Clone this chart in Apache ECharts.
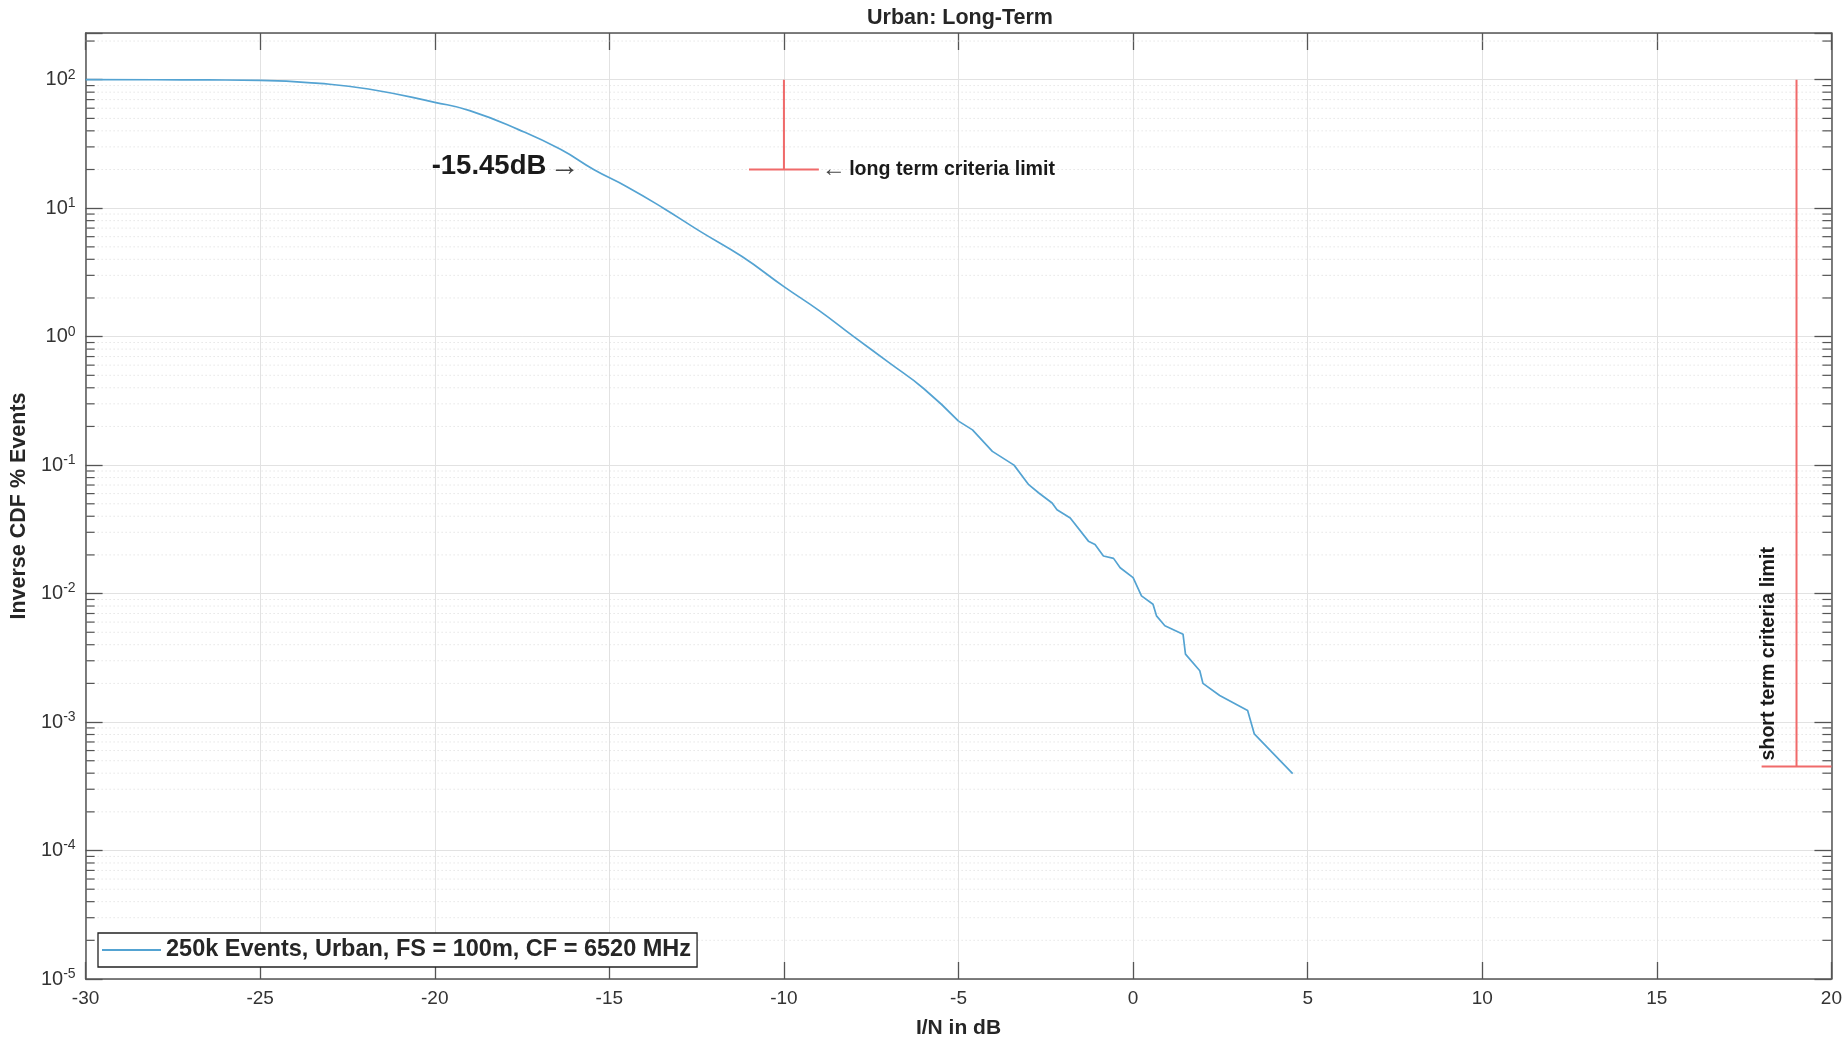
<!DOCTYPE html>
<html>
<head>
<meta charset="utf-8">
<title>Urban: Long-Term</title>
<script src="https://cdn.jsdelivr.net/npm/echarts@6/dist/echarts.min.js"></script>
<style>
  html, body { margin: 0; padding: 0; background: #fff; }
  #chart { width: 1845px; height: 1044px; }
</style>
</head>
<body>
<div id="chart"></div>
<script>
  // I/N in dB (x) and inverse CDF in % of events (y)
  var inDb = [-30, -28, -26.5, -25, -23.3, -21.9, -20, -19, -17.6, -16.4,
    -15.45, -14.5, -13.45, -12.4, -11.2, -10, -9, -8, -7, -6,
    -5, -4.6, -4.03, -3.41, -2.99, -2.7, -2.32, -2.18, -1.8, -1.28,
    -1.09, -0.85, -0.56, -0.37, 0, 0.24, 0.57, 0.67, 0.91, 1.43,
    1.5, 1.91, 2, 2.48, 3.28, 3.47, 4.57]
  var cdfPct = [100, 99.9, 99.6, 98.8, 93.5, 84.7, 66.7, 57.5, 40.9, 28.7,
    20, 14.7, 10, 6.6, 4.2, 2.45, 1.6, 1.0, 0.63, 0.395,
    0.22, 0.188, 0.128, 0.1, 0.0704, 0.0607, 0.0507, 0.045, 0.0388, 0.0256,
    0.0241, 0.0196, 0.0188, 0.0159, 0.0133, 0.0096, 0.00826, 0.00671, 0.00562, 0.00483,
    0.00338, 0.00251, 0.002, 0.00161, 0.00123, 0.00081, 0.000397]

  // criteria limit markers (T shapes)
  var longTermX = [-10, -10, -11, -9]
  var longTermY = [100, 20, 20, 20]
  var shortTermX = [19, 19, 18, 20]
  var shortTermY = [100, 0.00045, 0.00045, 0.00045]

  // axes
  var xMin = -30
  var xMax = 20
  var xStep = 5
  var yMin = 1e-5
  var yMax = 231
  var yDecades = [-5, -4, -3, -2, -1, 0, 1, 2]
  var minorSteps = [2, 3, 4, 5, 6, 7, 8, 9]

  var seriesName = '250k Events, Urban, FS = 100m, CF = 6520 MHz'
  var font = 'Liberation Sans, Arial, Helvetica, sans-serif'
  var axisColor = '#555'
  var textColor = '#262626'
  var curveColor = '#54a3d2'

  function zip (xs, ys) {
    return xs.map(function (x, i) { return [x, ys[i]] })
  }

  // the smooth upper part and the stepped tail are drawn as two pieces of one curve
  var curve = zip(inDb, cdfPct)
  var splitAt = inDb.indexOf(-5)
  var curveHead = curve.slice(0, splitAt + 1)
  var curveTail = curve.slice(splitAt)

  // minor log grid positions (2..9 x 10^n)
  var minorData = []
  yDecades.forEach(function (d) {
    minorSteps.forEach(function (k) {
      var v = k * Math.pow(10, d)
      if (v < yMax) minorData.push([xMin, v])
    })
  })

  var chart = echarts.init(document.getElementById('chart'))

  chart.setOption({
    backgroundColor: '#fff',
    animation: false,
    textStyle: { fontFamily: font },
    title: {
      text: 'Urban: Long-Term',
      left: 960,
      top: 7,
      padding: 0,
      textAlign: 'center',
      textStyle: { fontFamily: font, fontSize: 21.5, fontWeight: 'bold', color: textColor }
    },
    grid: { left: 83, right: 8, top: 33, bottom: 60 },
    legend: {
      data: [{ name: seriesName, icon: 'rect' }],
      left: 98,
      top: 933,
      orient: 'horizontal',
      backgroundColor: '#fff',
      borderColor: '#222',
      borderWidth: 1.3,
      padding: [5, 6, 5, 4],
      itemWidth: 59,
      itemHeight: 2,
      selectedMode: false,
      textStyle: { fontFamily: font, fontSize: 23.5, fontWeight: 'bold', color: textColor }
    },
    xAxis: [{
      type: 'value',
      min: xMin,
      max: xMax,
      interval: xStep,
      name: 'I/N in dB',
      nameLocation: 'middle',
      nameGap: 39,
      nameTextStyle: { fontFamily: font, fontSize: 21, fontWeight: 'bold', color: textColor },
      axisLine: { show: true, onZero: false, lineStyle: { color: axisColor, width: 1.5 } },
      axisTick: { show: true, inside: true, length: 17, lineStyle: { color: axisColor, width: 1.3 } },
      axisLabel: { margin: 10, fontSize: 19, color: '#333', fontFamily: font },
      splitLine: { show: true, lineStyle: { color: '#e2e2e2', width: 1 } }
    }, {
      type: 'value',
      position: 'top',
      min: xMin,
      max: xMax,
      interval: xStep,
      axisLine: { show: true, onZero: false, lineStyle: { color: axisColor, width: 1.5 } },
      axisTick: { show: true, inside: true, length: 17, lineStyle: { color: axisColor, width: 1.3 } },
      axisLabel: { show: false },
      splitLine: { show: false }
    }],
    yAxis: [{
      type: 'log',
      logBase: 10,
      min: yMin,
      max: yMax,
      splitNumber: 8,
      name: 'Inverse CDF % Events',
      nameLocation: 'middle',
      nameGap: 49,
      nameTextStyle: { fontFamily: font, fontSize: 21.5, fontWeight: 'bold', color: textColor },
      axisLine: { show: true, onZero: false, lineStyle: { color: axisColor, width: 1.5 } },
      axisTick: { show: true, inside: true, length: 17, lineStyle: { color: axisColor, width: 1.3 } },
      axisLabel: {
        margin: 10,
        formatter: function (value) {
          var e = Math.log10(value)
          var r = Math.round(e)
          if (Math.abs(e - r) > 1e-6) return ''
          return '{b|10}{s|' + r + '}'
        },
        rich: {
          b: { fontFamily: font, fontSize: 20, color: '#333' },
          s: { fontFamily: font, fontSize: 14, color: '#333', padding: [0, 0, 10, 0] }
        }
      },
      splitLine: { show: true, lineStyle: { color: '#e2e2e2', width: 1 } }
    }, {
      type: 'log',
      logBase: 10,
      position: 'right',
      min: yMin,
      max: yMax,
      splitNumber: 8,
      axisLine: { show: true, onZero: false, lineStyle: { color: axisColor, width: 1.5 } },
      axisTick: { show: true, inside: true, length: 17, lineStyle: { color: axisColor, width: 1.3 } },
      axisLabel: { show: false },
      splitLine: { show: false }
    }],
    series: [
      {
        // minor log grid lines and minor ticks on both y axes
        type: 'custom',
        name: 'minor',
        silent: true,
        z: 1,
        data: minorData,
        encode: { x: 0, y: 1 },
        renderItem: function (params, api) {
          var v = api.value(1)
          var l = api.coord([xMin, v])
          var r = api.coord([xMax, v])
          return {
            type: 'group',
            children: [
              { type: 'line', shape: { x1: l[0], y1: l[1], x2: r[0], y2: r[1] },
                style: { stroke: '#d9d9d9', lineWidth: 1, lineDash: [1, 3] } },
              { type: 'line', shape: { x1: l[0], y1: l[1], x2: l[0] + 9, y2: l[1] },
                style: { stroke: axisColor, lineWidth: 1.2 } },
              { type: 'line', shape: { x1: r[0] - 9, y1: r[1], x2: r[0], y2: r[1] },
                style: { stroke: axisColor, lineWidth: 1.2 } }
            ]
          }
        }
      },
      {
        type: 'line',
        name: seriesName,
        data: curveHead,
        symbol: 'none',
        smooth: 0.5,
        z: 4,
        lineStyle: { color: curveColor, width: 1.7 },
        itemStyle: { color: curveColor },
        markPoint: {
          silent: true,
          symbol: 'circle',
          symbolSize: 0,
          data: [{
            coord: [-15.45, 20],
            label: {
              show: true,
              position: 'left',
              distance: 14,
              offset: [0, -3],
              formatter: '{b|-15.45dB} {a|→}',
              rich: {
                b: { fontFamily: font, fontSize: 27.5, fontWeight: 'bold', color: '#1a1a1a' },
                a: { fontFamily: font, fontSize: 30, color: '#444' }
              }
            }
          }]
        }
      },
      {
        type: 'line',
        name: seriesName,
        data: curveTail,
        symbol: 'none',
        z: 4,
        lineStyle: { color: curveColor, width: 1.7 },
        itemStyle: { color: curveColor }
      },
      {
        type: 'line',
        name: 'long term criteria limit',
        data: zip(longTermX, longTermY),
        symbol: 'none',
        silent: true,
        z: 3,
        lineStyle: { color: '#f06a6a', width: 2 },
        markPoint: {
          silent: true,
          symbol: 'circle',
          symbolSize: 0,
          data: [{
            coord: [-9, 20],
            label: {
              show: true,
              position: 'right',
              distance: 3,
              formatter: '{a|←} {b|long term criteria limit}',
              rich: {
                b: { fontFamily: font, fontSize: 19.6, fontWeight: 'bold', color: '#1a1a1a' },
                a: { fontFamily: font, fontSize: 24, color: '#444' }
              }
            }
          }]
        }
      },
      {
        type: 'line',
        name: 'short term criteria limit',
        data: zip(shortTermX, shortTermY),
        symbol: 'none',
        silent: true,
        z: 3,
        lineStyle: { color: '#f06a6a', width: 2 },
        markPoint: {
          silent: true,
          symbol: 'circle',
          symbolSize: 0,
          data: [{
            coord: [18.19, 0.0034],
            label: {
              show: true,
              position: 'inside',
              rotate: 90,
              formatter: 'short term criteria limit',
              fontFamily: font,
              fontSize: 19.6,
              fontWeight: 'bold',
              color: '#1a1a1a'
            }
          }]
        }
      }
    ]
  })
</script>
</body>
</html>
